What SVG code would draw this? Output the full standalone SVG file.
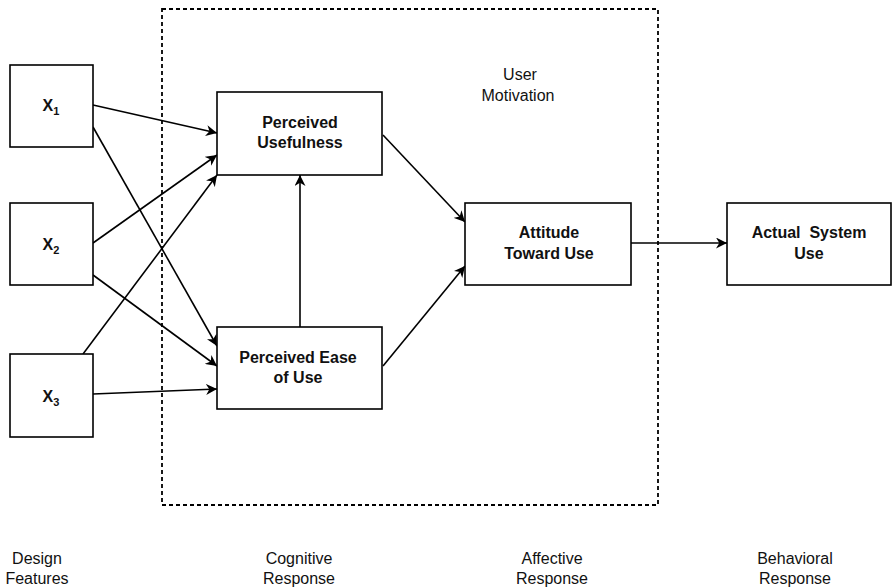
<svg xmlns="http://www.w3.org/2000/svg" width="892" height="587" viewBox="0 0 892 587">
<style>
.box{fill:#fff;stroke:#000;stroke-width:1.6}
.lbl{font-family:"Liberation Sans",Arial,sans-serif;font-size:16px;font-weight:bold;text-anchor:middle;fill:#111}
.txt{font-family:"Liberation Sans",Arial,sans-serif;font-size:16px;text-anchor:middle;fill:#111}
.sub{font-size:11px}
.edge{fill:none;stroke:#000;stroke-width:1.6;marker-end:url(#arr)}
</style>
<defs>
<marker id="arr" viewBox="0 0 10 10" refX="10" refY="5" markerWidth="11" markerHeight="11" markerUnits="userSpaceOnUse" orient="auto">
<path d="M0,0 L10,5 L0,10 L3,5 z" fill="#000"/>
</marker>
</defs>
<rect x="162" y="9" width="496" height="496" fill="none" stroke="#000" stroke-width="1.8" stroke-dasharray="4,3"/>
<g id="connectors">
<line class="edge" x1="93" y1="105" x2="217" y2="133"/>
<line class="edge" x1="93" y1="127" x2="217" y2="346"/>
<line class="edge" x1="93" y1="243" x2="217" y2="155"/>
<line class="edge" x1="93" y1="275" x2="217" y2="366"/>
<line class="edge" x1="83" y1="354" x2="217" y2="175"/>
<line class="edge" x1="93" y1="394" x2="217" y2="389"/>
<line class="edge" x1="300" y1="327" x2="300" y2="175"/>
<line class="edge" x1="383" y1="135" x2="465" y2="222"/>
<line class="edge" x1="383" y1="366" x2="465" y2="266"/>
<line class="edge" x1="631" y1="243" x2="727" y2="243"/>
</g>
<g id="x1"><rect class="box" x="10" y="65" width="83" height="82"/><text class="lbl" x="51" y="111">X<tspan class="sub" dy="4">1</tspan></text></g>
<g id="x2"><rect class="box" x="10" y="203" width="83" height="82"/><text class="lbl" x="51" y="250">X<tspan class="sub" dy="4">2</tspan></text></g>
<g id="x3"><rect class="box" x="10" y="354" width="83" height="83"/><text class="lbl" x="51" y="402">X<tspan class="sub" dy="4">3</tspan></text></g>
<g id="pu"><rect class="box" x="217" y="92" width="165" height="83"/><text class="lbl" x="300" y="128">Perceived</text><text class="lbl" x="300" y="148">Usefulness</text></g>
<g id="peou"><rect class="box" x="217" y="327" width="165" height="82"/><text class="lbl" x="298" y="363">Perceived Ease</text><text class="lbl" x="298" y="383">of Use</text></g>
<g id="att"><rect class="box" x="465" y="203" width="166" height="82"/><text class="lbl" x="549" y="238">Attitude</text><text class="lbl" x="549" y="259">Toward Use</text></g>
<g id="actual"><rect class="box" x="727" y="203" width="164" height="82"/><text class="lbl" x="809" y="238" xml:space="preserve">Actual  System</text><text class="lbl" x="809" y="259">Use</text></g>
<g id="motivation"><text class="txt" x="520" y="80">User</text><text class="txt" x="518" y="101">Motivation</text></g>
<g id="labels">
<text class="txt" x="37" y="564">Design</text><text class="txt" x="37" y="584">Features</text>
<text class="txt" x="299" y="564">Cognitive</text><text class="txt" x="299" y="584">Response</text>
<text class="txt" x="552" y="564">Affective</text><text class="txt" x="552" y="584">Response</text>
<text class="txt" x="795" y="564">Behavioral</text><text class="txt" x="795" y="584">Response</text>
</g>
</svg>
